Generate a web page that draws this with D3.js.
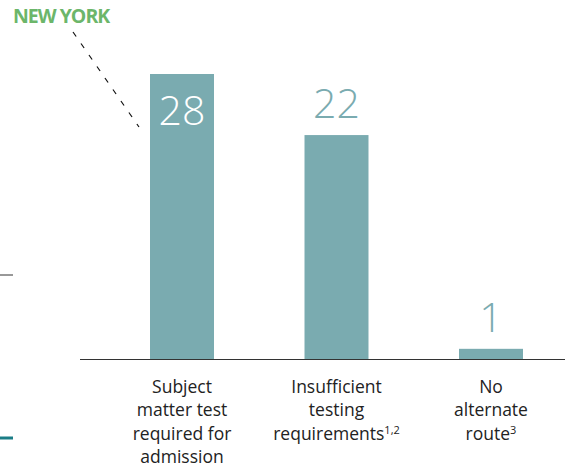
<!DOCTYPE html>
<html>
<head>
<meta charset="utf-8">
<script src="https://cdn.jsdelivr.net/npm/d3@7"></script>
<style>
  body { margin: 0; background: #fff; }
  svg { display: block; font-family: "Open Sans", sans-serif; }
</style>
</head>
<body>
<svg width="565" height="472"></svg>
<script>
// Chart data
const categories = ["Subject matter test required for admission", "Insufficient testing requirements", "No alternate route"];
const values = [28, 22, 1];
// label lines and footnote marks for each category
const labelLines = [
    ["Subject", "matter test", "required for", "admission"],
    ["Insufficient", "testing", "requirements"],
    ["No", "alternate", "route"]
];
const footnotes = ["", "1,2", "3"];
const stateLabel = "NEW YORK";

const svg = d3.select("svg");
const width = 565;
const baseY = 359;

// Scales
const x = d3.scaleBand()
    .domain(categories)
    .range([104.75, 568.25])
    .paddingInner(0.5858)
    .paddingOuter(0.2929);

const y = d3.scaleLinear()
    .domain([0, 28])
    .range([baseY, 74]);

// Decorations on the left edge
svg.append("line")
    .attr("x1", 0).attr("x2", 13)
    .attr("y1", 275).attr("y2", 275)
    .attr("stroke", "#333").attr("stroke-width", 1);

svg.append("line")
    .attr("x1", 0).attr("x2", 13)
    .attr("y1", 438).attr("y2", 438)
    .attr("stroke", "#1b7d86").attr("stroke-width", 3);

// Bars
svg.append("g")
    .selectAll("rect")
    .data(values)
    .enter()
    .append("rect")
    .attr("x", (d, i) => x(categories[i]))
    .attr("y", d => y(d))
    .attr("width", x.bandwidth())
    .attr("height", d => baseY - y(d))
    .attr("fill", "#7aabb0");

// Baseline
svg.append("line")
    .attr("x1", 80).attr("x2", width)
    .attr("y1", baseY + 0.5).attr("y2", baseY + 0.5)
    .attr("stroke", "#333").attr("stroke-width", 1.2);

// Value labels: inside the tallest bar, above the others
const maxVal = d3.max(values);
svg.append("g")
    .selectAll("text")
    .data(values)
    .enter()
    .append("text")
    .attr("x", (d, i) => x(categories[i]) + x.bandwidth() / 2)
    .attr("y", d => d === maxVal ? y(d) + 51 : y(d) - 17)
    .attr("text-anchor", "middle")
    .attr("font-size", "41px")
    .attr("font-weight", 300)
    .attr("fill", d => d === maxVal ? "#fff" : "#7aabb0")
    .text(d => d);

// Category labels
const labels = svg.append("g")
    .selectAll("text")
    .data(categories)
    .enter()
    .append("text")
    .attr("text-anchor", "middle")
    .attr("font-size", "17.5px")
    .attr("fill", "#222");

labels.each(function(c, i) {
    const t = d3.select(this);
    const cx = x(c) + x.bandwidth() / 2;
    labelLines[i].forEach((line, j) => {
        const last = j === labelLines[i].length - 1;
        t.append("tspan")
            .attr("x", cx)
            .attr("y", 393 + j * 23.3)
            .text(line);
        if (last && footnotes[i]) {
            t.append("tspan")
                .attr("dy", -6)
                .attr("font-size", "11px")
                .text(footnotes[i]);
        }
    });
});

// NEW YORK callout
svg.append("text")
    .attr("x", 13)
    .attr("y", 23)
    .attr("font-size", "19.5px")
    .attr("font-weight", 700)
    .attr("letter-spacing", "-1px")
    .attr("fill", "#6cb66a")
    .text(stateLabel);

svg.append("line")
    .attr("x1", 73).attr("y1", 32)
    .attr("x2", 139).attr("y2", 127)
    .attr("stroke", "#111")
    .attr("stroke-width", 1.2)
    .attr("stroke-dasharray", "5.5,8.5");
</script>
</body>
</html>
